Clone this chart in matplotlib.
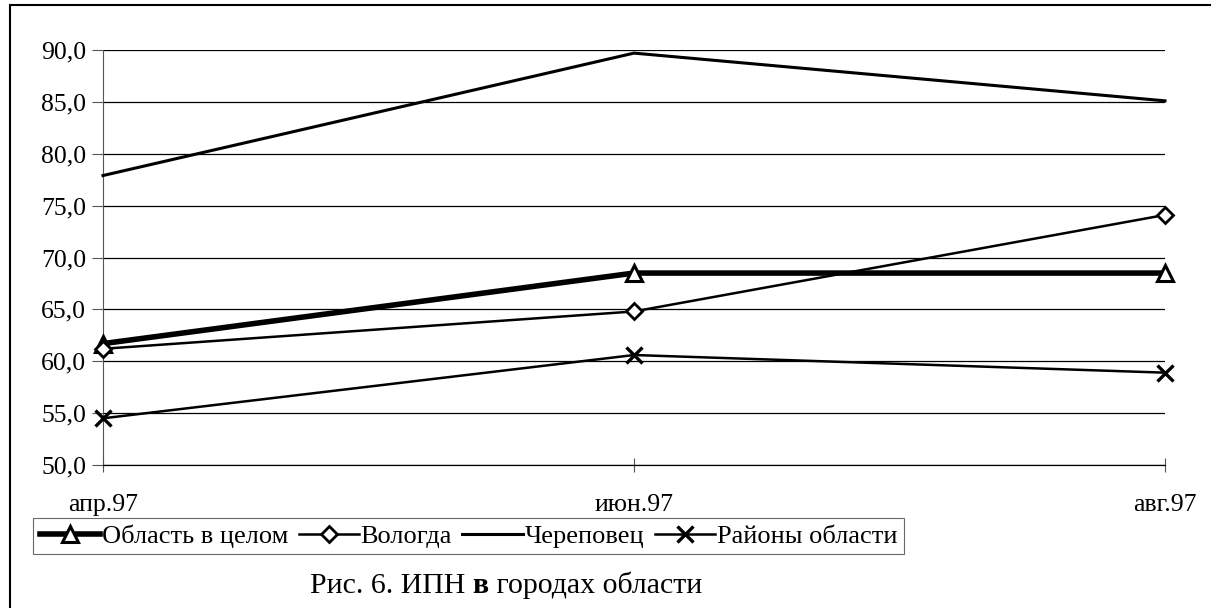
import matplotlib
matplotlib.use("Agg")
import matplotlib.pyplot as plt
from matplotlib.patches import Rectangle

plt.rcParams['font.family'] = ['Liberation Serif', 'DejaVu Serif']

categories = ["апр.97", "июн.97", "авг.97"]
oblast = [61.7, 68.5, 68.5]
vologda = [61.2, 64.8, 74.1]
cherepovets = [77.9, 89.7, 85.1]
rayony = [54.5, 60.6, 58.9]
series_names = ["Область в целом", "Вологда", "Череповец", "Районы области"]
yticks = [50, 55, 60, 65, 70, 75, 80, 85, 90]
caption_parts = ["Рис. 6. ИПН ", "в", " городах области"]

W, H = 1211, 608
FS = 18.5
fig = plt.figure(figsize=(W / 100, H / 100), dpi=100)
ax = fig.add_axes([103 / W, 1 - 465 / H, (1165 - 103) / W, (465 - 50) / H])

x = list(range(len(categories)))
l1, = ax.plot(x, oblast, color='black', lw=4.0, marker='^', ms=11,
              mfc='white', mec='black', mew=2.2, label=series_names[0],
              zorder=5, clip_on=False)
l2, = ax.plot(x, vologda, color='black', lw=1.8, marker='D', ms=8,
              mfc='white', mec='black', mew=2.0, label=series_names[1],
              zorder=5, clip_on=False)
l3, = ax.plot(x, cherepovets, color='black', lw=2.2, label=series_names[2],
              zorder=5, clip_on=False)
l4, = ax.plot(x, rayony, color='black', lw=1.8, marker='x', ms=12,
              mew=2.4, label=series_names[3], zorder=5, clip_on=False)

ax.set_xlim(0, 2)
ax.set_ylim(50, 90)
ax.set_yticks(yticks)
ax.set_yticklabels([f"{v:.1f}".replace('.', ',') for v in yticks], fontsize=FS)
ax.yaxis.grid(True, color='black', lw=0.9)
ax.set_axisbelow(True)
for s in ['top', 'right']:
    ax.spines[s].set_visible(False)
ax.spines['left'].set_color('#555555')
ax.spines['left'].set_linewidth(0.8)
ax.spines['bottom'].set_color('black')
ax.spines['bottom'].set_linewidth(0.9)
ax.tick_params(axis='y', length=8, width=0.8, pad=4, color='#555555')
ax.set_xticks(x)
ax.set_xticklabels(categories, fontsize=FS)
ax.tick_params(axis='x', length=10, width=0.8, direction='inout', pad=16, color='#555555')

leg = fig.legend(handles=[l1, l2, l3, l4], loc='center left',
                 bbox_to_anchor=(33 / W, 1 - 536 / H), ncol=4, fontsize=19,
                 frameon=True, fancybox=False, edgecolor='#444444',
                 handlelength=2.3, handletextpad=0.05, columnspacing=0.4,
                 borderpad=0.25, borderaxespad=0)
leg.get_frame().set_linewidth(0.8)

CFS = 21.5
t1 = fig.text(310 / W, 1 - 586 / H, caption_parts[0], ha='left', va='center', fontsize=CFS)
t2 = ax.annotate(caption_parts[1], xy=(1, 0), xycoords=t1, ha='left', va='bottom',
                 fontsize=CFS, fontweight='bold', annotation_clip=False)
t3 = ax.annotate(caption_parts[2], xy=(1, 0), xycoords=t2, ha='left', va='bottom',
                 fontsize=CFS, annotation_clip=False)

fig.patches.append(Rectangle((10 / W, -0.05), 1.1, 1 - 5 / H + 0.05,
                             transform=fig.transFigure, fill=False,
                             edgecolor='black', lw=1.5, clip_on=False))

fig.savefig("out.png", dpi=100)
